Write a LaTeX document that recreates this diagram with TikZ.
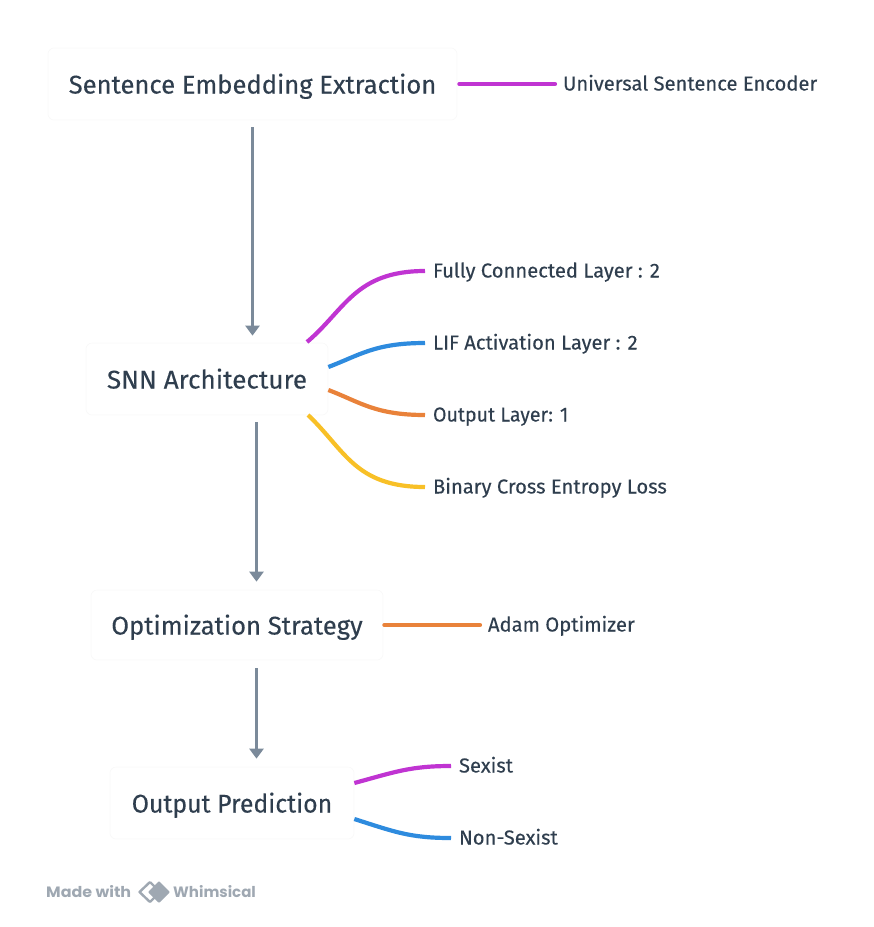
\documentclass[tikz,border=0pt]{standalone}
\usepackage{fontspec}
\usepackage{graphicx}
\setmainfont{Fira Sans}
\newfontfamily\labf[FakeBold=0.2]{Fira Sans}
\newfontfamily\wmf{Poppins}
\usetikzlibrary{calc,arrows.meta}
\definecolor{txt}{HTML}{2F3E4E}
\definecolor{edge}{HTML}{7B8A9A}
\definecolor{mag}{HTML}{C034D2}
\definecolor{blu}{HTML}{2E8BDE}
\definecolor{org}{HTML}{E9823A}
\definecolor{yel}{HTML}{F8C027}
\definecolor{wm}{HTML}{9FA8B2}
\tikzset{
 box/.style={draw=black!2.5,fill=white,rounded corners=6pt,line width=.7pt,text=txt,font=\labf\fontsize{25.6}{30}\selectfont,inner sep=0pt,minimum height=72pt,text height=23pt,text depth=4pt},
 lab/.style={anchor=west,text=txt,font=\labf\fontsize{20.2}{24}\selectfont,inner sep=0pt,outer xsep=8pt,outer ysep=0pt,text height=16pt,text depth=3pt},
 flow/.style={draw=edge,line width=3.8pt,-{Triangle[width=14pt,length=10pt]}},
 link/.style={line width=4.2pt,line cap=round},
 wmark/.style={anchor=west,inner sep=0pt,text=wm,font=\wmf\bfseries\fontsize{15}{18}\selectfont},
}
\begin{document}
\begin{tikzpicture}[x=1pt,y=-1pt]
\useasboundingbox (0,0) rectangle (874,927);
\node[box,minimum width=409pt] (see) at (252.5,84) {Sentence Embedding Extraction};
\node[box,minimum width=242pt] (snn) at (207,379) {\scalebox{1.02}[1]{SNN Architecture}};
\node[box,minimum width=292pt,minimum height=70pt] (opt) at (237,625) {Optimization Strategy};
\node[box,minimum width=244pt] (out) at (232,803) {\scalebox{.97}[1]{Output Prediction}};
\node[lab] (uset) at (555,84) {Universal Sentence Encoder};
\node[lab] (fc) at (425,271) {Fully Connected Layer : 2};
\node[lab] (lif) at (425,343) {LIF Activation Layer : 2};
\node[lab] (ol) at (425,415) {\scalebox{.97}[1]{Output Layer: 1}};
\node[lab] (bce) at (425,487) {Binary Cross Entropy Loss};
\node[lab] (adam) at (480,625) {Adam Optimizer};
\node[lab] (sx) at (451,766) {Sexist};
\node[lab] (ns) at (451,838) {Non-Sexist};
\coordinate (a1) at ($(see.south)+(0,7)$);
\coordinate (a2) at ($(snn.north)+(45.5,-7)$);
\coordinate (b1) at ($(snn.south)+(49.5,7)$);
\coordinate (b2) at ($(opt.north)+(19.5,-8)$);
\coordinate (c1) at ($(opt.south)+(19.5,8)$);
\coordinate (c2) at ($(out.north)+(24.5,-8)$);
\draw[flow] (a1) -- (a2);
\draw[flow] (b1) -- (b2);
\draw[flow] (c1) -- (c2);
\draw[link,mag] (see.east) ++(2,0) -- (uset.west);
\draw[link,org] (opt.east) ++(1,0) -- (adam.west);
\draw[link,mag,line cap=butt] (307,342) .. controls (345,310) and (355,271) .. (fc.west);
\draw[link,blu,line cap=butt] (snn.east)++(0,-12) .. controls (360,355) and (375,343) .. (lif.west);
\draw[link,org,line cap=butt] (snn.east)++(0,11) .. controls (360,402) and (375,415) .. (ol.west);
\draw[link,yel,line cap=butt] (308,415) .. controls (345,450) and (355,487) .. (bce.west);
\draw[link,mag,line cap=butt] (out.east)++(0,-20) .. controls (395,772) and (410,766) .. (sx.west);
\draw[link,blu,line cap=butt] (out.east)++(0,16) .. controls (395,832) and (410,838) .. (ns.west);
\node[wmark] (mw) at (46,892) {\scalebox{1.06}[1]{Made with}};
\node[wmark] (wh) at (173,892) {Whimsical};
\draw[wm,line width=2.4pt,line join=round] (150,882) -- (139.5,892) -- (150,902);
\draw[wm,line width=2.4pt,line join=round] (150,882) -- (156,888) (150,902) -- (156,896);
\fill[wm,rounded corners=1pt] (159,881) -- (170,892) -- (159,903) -- (148,892) -- cycle;
\end{tikzpicture}
\end{document}
